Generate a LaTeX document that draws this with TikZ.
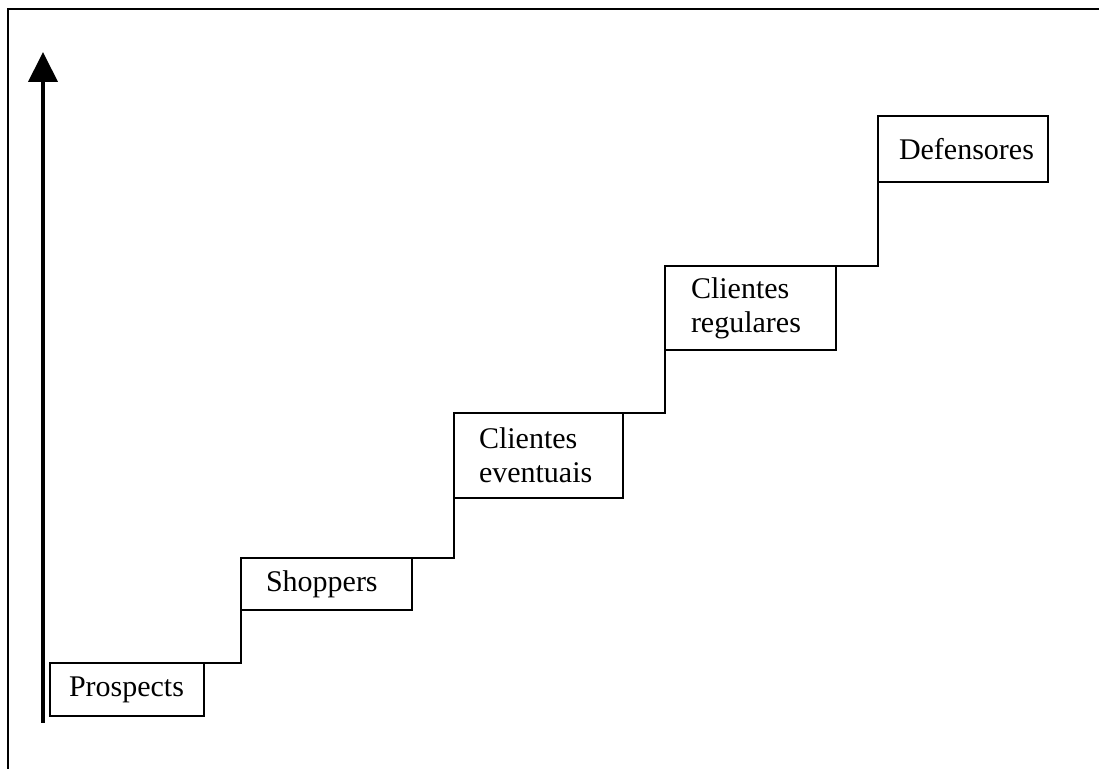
\documentclass[tikz,border=0pt]{standalone}
\usepackage{fontspec}
\setmainfont{Liberation Serif}
\usetikzlibrary{arrows.meta}
\begin{document}
\begin{tikzpicture}[x=0.5pt,y=-0.5pt,
  stair/.style={draw, line width=0.75pt, anchor=north west, align=left,
    inner ysep=0pt, outer sep=0pt, font=\fontsize{15}{17}\selectfont},
  riser/.style={draw, line width=0.75pt},
  frame/.style={draw, line width=1pt},
  axis/.style={draw, line width=2pt, -{Triangle[length=15pt,width=14.5pt]}}]
\useasboundingbox (0,0) rectangle (1099,769);
% frame
\coordinate (fb) at (8,769);
\coordinate (ftl) at (8,9);
\coordinate (fr) at (1099,9);
\draw[frame] (fb) -- (ftl) -- (fr);
% axis arrow
\coordinate (abot) at (43,723);
\coordinate (atop) at (43,52);
\draw[axis] (abot) -- (atop);
% stairs
\node[stair, inner xsep=9.5pt, text width=58pt, minimum height=26.5pt] (P) at (50,663) {Prospects};
\node[stair, inner xsep=12.5pt, text width=60.5pt, minimum height=26pt] (S) at (241,558) {Shoppers};
\node[stair, inner xsep=12.5pt, text width=59.5pt, minimum height=42.5pt] (E) at (454,413) {Clientes\\eventuais};
\node[stair, inner xsep=13pt, text width=59.5pt, minimum height=42pt] (R) at (665,266) {Clientes\\regulares};
\node[stair, inner xsep=10.5pt, text width=64pt, minimum height=33pt] (D) at (878,116) {Defensores};
% risers
\draw[riser] (P.north east) -| (S.south west);
\draw[riser] (S.north east) -| (E.south west);
\draw[riser] (E.north east) -| (R.south west);
\draw[riser] (R.north east) -| (D.south west);
\end{tikzpicture}
\end{document}
